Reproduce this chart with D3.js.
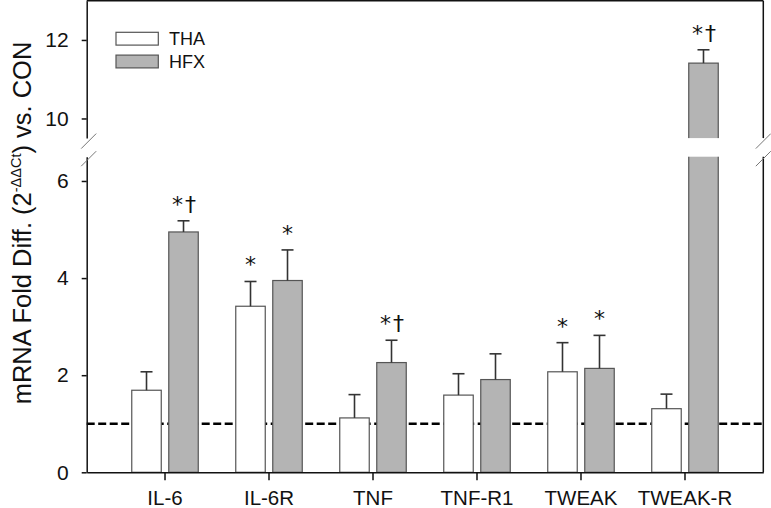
<!DOCTYPE html>
<html>
<head>
<meta charset="utf-8">
<script src="https://cdn.jsdelivr.net/npm/d3@7"></script>
<style>
  html, body { margin: 0; padding: 0; background: #fff; }
  svg { display: block; font-family: Arial, "Liberation Sans", sans-serif; }
</style>
</head>
<body>
<svg id="chart" width="771" height="508"></svg>
<script>
// ---- data ----
const categories = ["IL-6", "IL-6R", "TNF", "TNF-R1", "TWEAK", "TWEAK-R"];
const seriesNames = ["THA", "HFX"];
const thaValues = [1.69, 3.42, 1.12, 1.59, 2.07, 1.31];
const thaErrors = [0.38, 0.51, 0.48, 0.44, 0.60, 0.30];
const hfxValues = [4.95, 3.95, 2.26, 1.91, 2.14, 11.41];
const hfxErrors = [0.23, 0.63, 0.46, 0.53, 0.68, 0.34];
const thaMarks = ["", "*", "", "", "*", ""];
const hfxMarks = ["*\u2020", "*", "*\u2020", "", "*", "*\u2020"];
const lowerTicks = [0, 2, 4, 6];
const upperTicks = [10, 12];
const lowerDomain = [0, 6.5];
const upperDomain = [9.5, 13];
const referenceLine = 1;

(function () {
// ---- layout ----
const pLeft = 86.7, pRight = 763.3, pBottom = 472.3, pTop = 0.7;
const lowTop = 156.7, upBottom = 138.1;
const svg = d3.select("#chart");

const x = d3.scaleBand().domain(categories).range([pLeft, pRight])
  .paddingInner(0).paddingOuter(0.253);
const sub = d3.scaleBand().domain(seriesNames).range([-33.25, 33.25]).paddingInner(0.203);
const yLow = d3.scaleLinear().domain(lowerDomain).range([pBottom, lowTop]);
const yUp = d3.scaleLinear().domain(upperDomain).range([upBottom, pTop]);
const y = v => (v <= lowerDomain[1] ? yLow(v) : yUp(v));

const fills = { THA: "#ffffff", HFX: "#b4b4b4" };
const strokes = { THA: "#555", HFX: "#555" };

const rows = [];
categories.forEach((c, i) => {
  rows.push({ cat: c, s: "THA", v: thaValues[i], e: thaErrors[i], m: thaMarks[i] });
  rows.push({ cat: c, s: "HFX", v: hfxValues[i], e: hfxErrors[i], m: hfxMarks[i] });
});
const bx = d => x(d.cat) + x.bandwidth() / 2 + sub(d.s);
const bw = sub.bandwidth();

// reference dashed line
svg.append("line")
  .attr("x1", pLeft).attr("x2", pRight)
  .attr("y1", yLow(referenceLine)).attr("y2", yLow(referenceLine))
  .attr("stroke", "#000").attr("stroke-width", 2.4)
  .attr("stroke-dasharray", "8,3.5");

// bars
svg.append("g").selectAll("rect").data(rows).join("rect")
  .attr("x", d => bx(d)).attr("width", bw)
  .attr("y", d => y(d.v)).attr("height", d => pBottom - y(d.v))
  .attr("fill", d => fills[d.s]).attr("stroke", d => strokes[d.s]).attr("stroke-width", 1.2);

// white gap for broken bars
svg.append("g").selectAll("rect").data(rows.filter(d => d.v > lowerDomain[1])).join("rect")
  .attr("x", d => bx(d) - 2).attr("width", bw + 4)
  .attr("y", upBottom).attr("height", lowTop - upBottom)
  .attr("fill", "#fff");

// error bars
const eg = svg.append("g").attr("stroke", "#333").attr("stroke-width", 1.6);
eg.selectAll("line.v").data(rows).join("line").attr("class", "v")
  .attr("x1", d => bx(d) + bw / 2).attr("x2", d => bx(d) + bw / 2)
  .attr("y1", d => y(d.v)).attr("y2", d => y(d.v + d.e));
eg.selectAll("line.c").data(rows).join("line").attr("class", "c")
  .attr("x1", d => bx(d) + bw / 2 - 6).attr("x2", d => bx(d) + bw / 2 + 6)
  .attr("y1", d => y(d.v + d.e)).attr("y2", d => y(d.v + d.e));

// significance marks
svg.append("g").selectAll("text").data(rows.filter(d => d.m)).join("text")
  .attr("x", d => bx(d) + bw / 2 + (d.m.length > 1 ? 1.5 : 0))
  .attr("y", d => y(d.v + d.e) - 9)
  .attr("text-anchor", "middle").attr("font-size", 22).attr("fill", "#111")
  .attr("font-family", "'DejaVu Sans', sans-serif")
  .attr("letter-spacing", d => (d.m.length > 1 ? 2 : 0))
  .text(d => d.m);

// axes
const axisStyle = g => {
  g.selectAll("text").attr("font-size", 21).attr("fill", "#111")
    .attr("font-family", "Arial, 'Liberation Sans', sans-serif");
  g.selectAll("path, line").attr("stroke", "#111").attr("stroke-width", 1.5);
};
const fmt = d3.format("d");
svg.append("g").attr("transform", `translate(${pLeft},0)`)
  .call(d3.axisLeft(yLow).tickValues(lowerTicks).tickFormat(fmt).tickSize(5).tickSizeOuter(0).tickPadding(13))
  .call(axisStyle);
svg.append("g").attr("transform", `translate(${pLeft},0)`)
  .call(d3.axisLeft(yUp).tickValues(upperTicks).tickFormat(fmt).tickSize(5).tickSizeOuter(0).tickPadding(13))
  .call(axisStyle);
const xg = svg.append("g").attr("transform", `translate(0,${pBottom})`)
  .call(d3.axisBottom(x).tickSize(8).tickSizeOuter(0).tickPadding(10))
  .call(axisStyle);
xg.selectAll("text").attr("font-size", 20.5);

// frame: top and right (broken)
const frame = svg.append("g").attr("stroke", "#111").attr("stroke-width", 1.5);
frame.append("line").attr("x1", pLeft).attr("x2", pRight).attr("y1", pTop).attr("y2", pTop);
frame.append("line").attr("x1", pRight).attr("x2", pRight).attr("y1", pTop).attr("y2", upBottom);
frame.append("line").attr("x1", pRight).attr("x2", pRight).attr("y1", lowTop).attr("y2", pBottom);

// break slashes
const slashes = [];
[pLeft + 2, pRight].forEach(cx => [upBottom + 3, lowTop + 2].forEach(cy => slashes.push({ cx, cy })));
svg.append("g").selectAll("line").data(slashes).join("line")
  .attr("x1", d => d.cx - 7.5).attr("y1", d => d.cy + 7.5)
  .attr("x2", d => d.cx + 7.5).attr("y2", d => d.cy - 7.5)
  .attr("stroke", "#777").attr("stroke-width", 1);

// legend
const lg = svg.append("g");
seriesNames.forEach((s, i) => {
  lg.append("rect").attr("x", 116).attr("y", 32.3 + i * 22.8).attr("width", 42.3).attr("height", 12.8)
    .attr("fill", fills[s]).attr("stroke", "#555").attr("stroke-width", 1.2);
  lg.append("text").attr("x", 169).attr("y", 45.3 + i * 22.8)
    .attr("font-size", 18).attr("fill", "#111").text(s);
});

// y-axis title
const title = svg.append("text")
  .attr("transform", "translate(31,223) rotate(-90)")
  .attr("text-anchor", "middle").attr("font-size", 25.5).attr("fill", "#111");
title.append("tspan").text("mRNA Fold Diff. (2");
title.append("tspan").attr("dy", -10).attr("font-size", 14.5).text("-\u0394\u0394Ct");
title.append("tspan").attr("dy", 10).text(") vs. CON");
})();
</script>
</body>
</html>
